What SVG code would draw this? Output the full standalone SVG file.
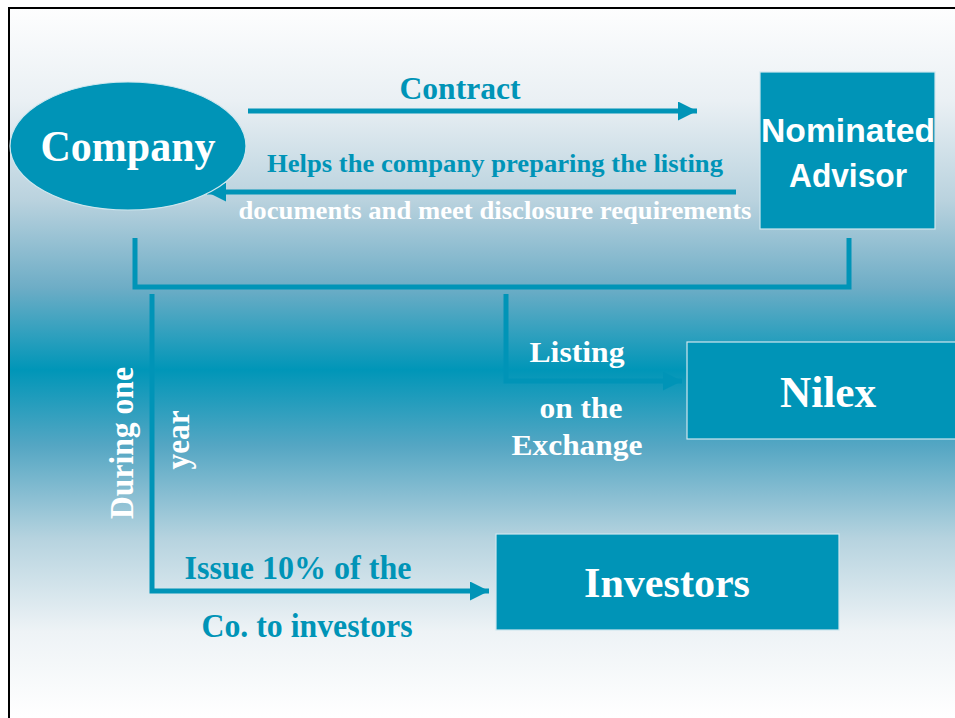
<svg xmlns="http://www.w3.org/2000/svg" width="955" height="718" viewBox="0 0 955 718">
<defs>
<linearGradient id="bg" x1="0" y1="0" x2="0" y2="718" gradientUnits="userSpaceOnUse">
<stop offset="0" stop-color="#ffffff"/>
<stop offset="0.14" stop-color="#eaf0f4"/>
<stop offset="0.28" stop-color="#b9d2de"/>
<stop offset="0.40" stop-color="#6eadc6"/>
<stop offset="0.515" stop-color="#0096b8"/>
<stop offset="0.62" stop-color="#54a6c3"/>
<stop offset="0.75" stop-color="#b6d3df"/>
<stop offset="0.88" stop-color="#eef3f6"/>
<stop offset="1" stop-color="#ffffff"/>
</linearGradient>
<marker id="ah" viewBox="0 0 10 10" refX="10" refY="5" markerWidth="3.8" markerHeight="3.8" markerUnits="strokeWidth" orient="auto">
<path d="M0,0 L10,5 L0,10 Z" fill="#0094b7"/>
</marker>
<style>
.node{fill:#0094b7;stroke:#cfe7ee;stroke-width:1.2}
.con{fill:none;stroke:#0094b7;stroke-width:5}
.arr{fill:none;stroke:#0094b7;stroke-width:5;marker-end:url(#ah)}
.serif{font-family:"Liberation Serif","Times New Roman",serif;font-weight:bold}
.sans{font-family:"Liberation Sans",Arial,sans-serif;font-weight:bold}
.w{fill:#ffffff}
.t{fill:#0094b7}
</style>
</defs>
<rect x="0" y="0" width="955" height="718" fill="#ffffff"/>
<rect x="9" y="8" width="960" height="730" fill="url(#bg)" stroke="#000000" stroke-width="2"/>

<g id="connectors">
<line class="arr" x1="248" y1="111" x2="697" y2="111"/>
<line class="arr" x1="736" y1="192" x2="207" y2="192"/>
<polyline class="con" points="135,238 135,287 849,287 849,238"/>
<polyline class="arr" points="506,294 506,381 682,381"/>
<polyline class="arr" points="152,294 152,591 489,591"/>
</g>

<g id="company">
<ellipse class="node" cx="128" cy="146" rx="118" ry="64"/>
<text class="serif w" x="128" y="161" font-size="44" text-anchor="middle" textLength="175" lengthAdjust="spacingAndGlyphs">Company</text>
</g>

<g id="nominated-advisor">
<rect class="node" x="760" y="72" width="175" height="157"/>
<text class="sans w" x="848" y="142" font-size="34" text-anchor="middle" textLength="174" lengthAdjust="spacingAndGlyphs">Nominated</text>
<text class="sans w" x="848" y="187" font-size="34" text-anchor="middle" textLength="118" lengthAdjust="spacingAndGlyphs">Advisor</text>
</g>

<g id="nilex">
<rect class="node" x="687" y="342" width="290" height="97"/>
<text class="serif w" x="828" y="407" font-size="44" text-anchor="middle" textLength="96" lengthAdjust="spacingAndGlyphs">Nilex</text>
</g>

<g id="investors">
<rect class="node" x="496" y="534" width="343" height="96"/>
<text class="serif w" x="667" y="597" font-size="42" text-anchor="middle" textLength="166" lengthAdjust="spacingAndGlyphs">Investors</text>
</g>

<g id="labels">
<text class="serif t" x="460" y="99" font-size="31" text-anchor="middle" textLength="121" lengthAdjust="spacingAndGlyphs">Contract</text>
<text class="serif t" x="495" y="172" font-size="26" text-anchor="middle" textLength="456" lengthAdjust="spacingAndGlyphs">Helps the company preparing the listing</text>
<text class="serif w" x="495" y="219" font-size="26" text-anchor="middle" textLength="513" lengthAdjust="spacingAndGlyphs">documents and meet disclosure requirements</text>
<text class="serif w" x="577" y="362" font-size="30" text-anchor="middle" textLength="95" lengthAdjust="spacingAndGlyphs">Listing</text>
<text class="serif w" x="581" y="418" font-size="30" text-anchor="middle" textLength="83" lengthAdjust="spacingAndGlyphs">on the</text>
<text class="serif w" x="577" y="455" font-size="30" text-anchor="middle" textLength="131" lengthAdjust="spacingAndGlyphs">Exchange</text>
<text class="serif w" transform="translate(133,443) rotate(-90)" font-size="33" text-anchor="middle" textLength="152" lengthAdjust="spacingAndGlyphs">During one</text>
<text class="serif w" transform="translate(189,440) rotate(-90)" font-size="33" text-anchor="middle" textLength="59" lengthAdjust="spacingAndGlyphs">year</text>
<text class="serif t" x="298" y="579" font-size="33" text-anchor="middle" textLength="227" lengthAdjust="spacingAndGlyphs">Issue 10% of the</text>
<text class="serif t" x="307" y="637" font-size="33" text-anchor="middle" textLength="211" lengthAdjust="spacingAndGlyphs">Co. to investors</text>
</g>
</svg>
